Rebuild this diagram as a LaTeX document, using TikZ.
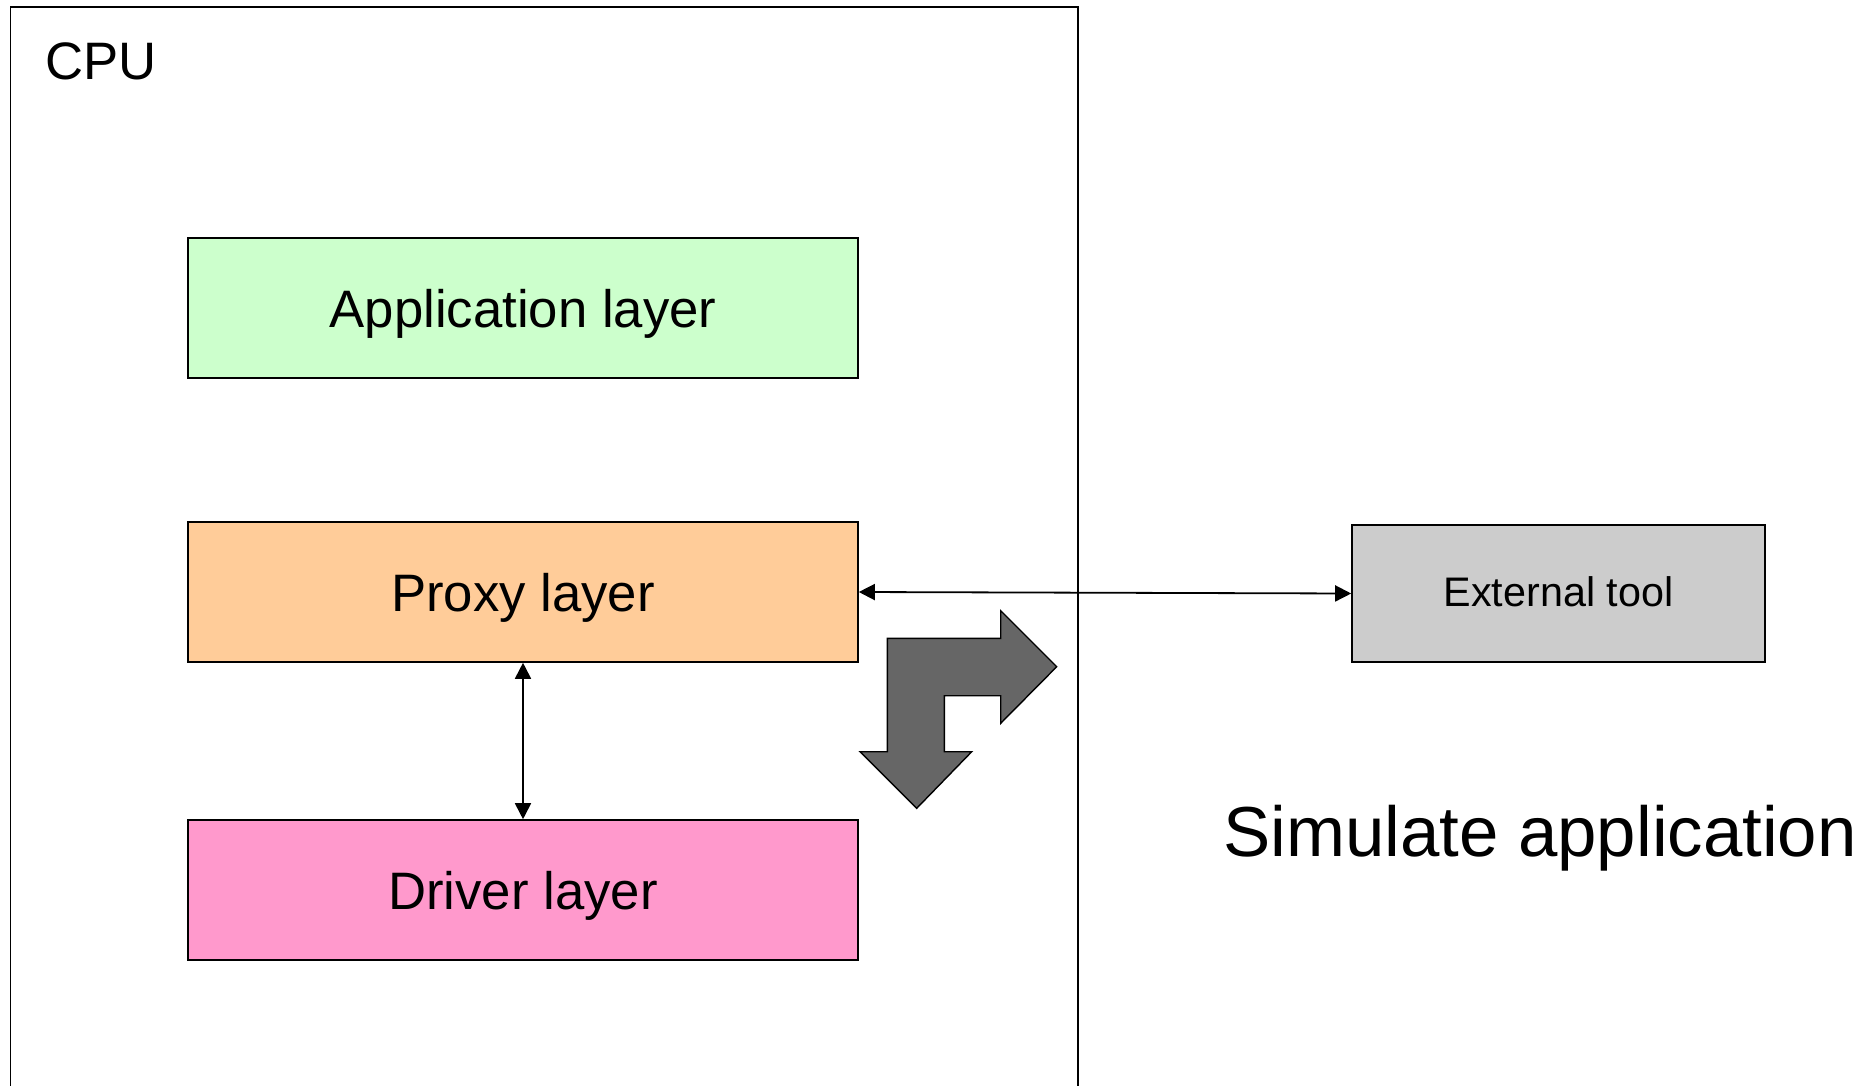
\documentclass[tikz,border=0pt]{standalone}
\usepackage{fontspec}
\setmainfont{Liberation Sans}
\usetikzlibrary{arrows.meta}
\definecolor{appgreen}{HTML}{CCFFCC}
\definecolor{proxyorange}{HTML}{FFCC99}
\definecolor{driverpink}{HTML}{FF99CC}
\definecolor{toolgrey}{HTML}{CCCCCC}
\definecolor{arrowgrey}{HTML}{666666}
\tikzset{
  layerbox/.style={draw=black, line width=1.6pt, minimum width=670pt, minimum height=140pt,
    inner sep=0pt, text height=38pt, text depth=0pt, font=\fontsize{52.7}{62}\selectfont},
  toolbox/.style={draw=black, line width=1.6pt, minimum width=413pt, minimum height=137pt,
    inner sep=0pt, text height=26pt, text depth=0pt, fill=toolgrey, font=\fontsize{41.3}{50}\selectfont},
  link/.style={line width=1.8pt, {Triangle[length=16pt,width=16pt]}-{Triangle[length=16pt,width=16pt]}},
  frame/.style={draw=black, line width=1.6pt},
  bigarrow/.style={draw=black, line width=1.4pt, fill=arrowgrey, line join=miter}
}
\begin{document}
\begin{tikzpicture}[x=1pt,y=-1pt]
\useasboundingbox (0,0) rectangle (1865,1086);
\fill[white] (0,0) rectangle (1865,1086);

% CPU enclosure, open at the bottom edge
\coordinate (cpuBL) at (10.5,1090);
\coordinate (cpuTL) at (10.5,7);
\coordinate (cpuTR) at (1078,7);
\coordinate (cpuBR) at (1078,1090);
\draw[frame] (cpuBL) -- (cpuTL) -- (cpuTR) -- (cpuBR);
\node[anchor=base west, inner sep=0pt, font=\fontsize{52.7}{62}\selectfont] (cpu) at (45,79.5) {CPU};

% software layers
\node[layerbox, fill=appgreen] (app) at (523,308) {Application layer};
\node[layerbox, fill=proxyorange] (proxy) at (523,592) {Proxy layer};
\node[layerbox, fill=driverpink] (driver) at (523,890) {Driver layer};

% external tool
\node[toolbox] (tool) at (1558.5,593.5) {External tool};

% connections
\draw[link] (proxy.south) -- (driver.north);
\draw[link] (proxy.east) -- (tool.west);

% bent redirect arrow
\draw[bigarrow] (916.7,808.3) -- (860,751.7) -- (887.3,751.7) -- (887.3,638.3)
  -- (1000.7,638.3) -- (1000.7,610.7) -- (1056.7,666.7) -- (1000.7,723.3)
  -- (1000.7,695.7) -- (944.3,695.7) -- (944.3,751.7) -- (971.7,751.7) -- cycle;

% caption
\node[anchor=base west, inner sep=0pt, font=\fontsize{70.8}{85}\selectfont] (sim) at (1223,856) {Simulate application};
\end{tikzpicture}
\end{document}
